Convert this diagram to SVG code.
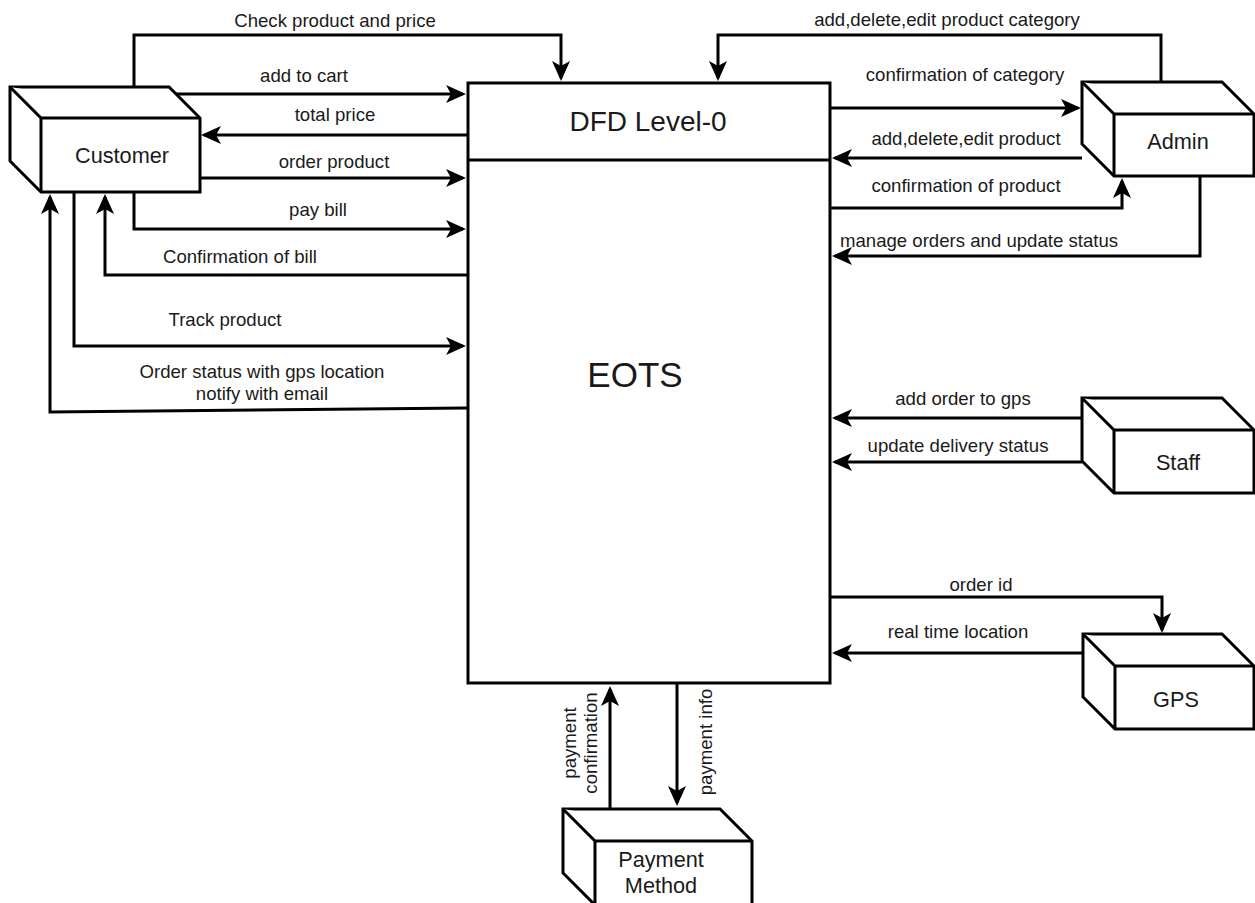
<svg xmlns="http://www.w3.org/2000/svg" width="1255" height="903" viewBox="0 0 1255 903">
  <style>
    .shape { fill: #ffffff; stroke: #000000; stroke-width: 3; stroke-linejoin: miter; }
    .edge { fill: none; stroke: #000000; stroke-width: 3; marker-end: url(#arrow); }
    .lbl { font-family: "Liberation Sans", Arial, sans-serif; font-size: 18.6px; fill: #1a1a1a; text-anchor: middle; }
    .ent { font-family: "Liberation Sans", Arial, sans-serif; font-size: 21.7px; fill: #1a1a1a; text-anchor: middle; }
  </style>
  <defs>
    <marker id="arrow" markerUnits="userSpaceOnUse" markerWidth="20" markerHeight="18" viewBox="0 0 20 18" refX="17" refY="9" orient="auto">
      <path d="M0,0 L20,9 L0,18 L5,9 Z" fill="#000000"/>
    </marker>
  </defs>
  <rect width="1255" height="903" fill="#ffffff"/>

  <!-- central process -->
  <g id="process-eots">
    <rect class="shape" x="468" y="83" width="362" height="600"/>
    <line x1="468" y1="160" x2="830" y2="160" stroke="#000" stroke-width="3"/>
    <text x="648" y="131" font-family="Liberation Sans, Arial, sans-serif" font-size="28px" fill="#1a1a1a" text-anchor="middle">DFD Level-0</text>
    <text x="635" y="387" font-family="Liberation Sans, Arial, sans-serif" font-size="35px" fill="#1a1a1a" text-anchor="middle">EOTS</text>
  </g>

  <!-- external entities (cubes) -->
  <g id="customer">
    <path class="shape" d="M10,87 H169 L200,118 V192 H41 L10,161 Z"/>
    <path class="shape" fill="none" d="M10,87 L41,118 H200 M41,118 V192"/>
    <text class="ent" x="122" y="163">Customer</text>
  </g>
  <g id="admin">
    <path class="shape" d="M1082,82 H1222 L1254,114 V176 H1114 L1082,144 Z"/>
    <path class="shape" fill="none" d="M1082,82 L1114,114 H1254 M1114,114 V176"/>
    <text class="ent" x="1178" y="149">Admin</text>
  </g>
  <g id="staff">
    <path class="shape" d="M1082,398 H1222 L1254,430 V493 H1114 L1082,461 Z"/>
    <path class="shape" fill="none" d="M1082,398 L1114,430 H1254 M1114,430 V493"/>
    <text class="ent" x="1178" y="470">Staff</text>
  </g>
  <g id="gps">
    <path class="shape" d="M1083,634 H1222 L1254,666 V729 H1115 L1083,697 Z"/>
    <path class="shape" fill="none" d="M1083,634 L1115,666 H1254 M1115,666 V729"/>
    <text class="ent" x="1176" y="707">GPS</text>
  </g>
  <g id="payment-method">
    <path class="shape" d="M563,809 H720 L752,841 V905 H595 L563,873 Z"/>
    <path class="shape" fill="none" d="M563,809 L595,841 H752 M595,841 V905"/>
    <text class="ent" x="661" y="867">Payment</text>
    <text class="ent" x="661" y="893">Method</text>
  </g>

  <!-- data flows -->
  <g id="connectors">
    <path class="edge" d="M134,87 V35 H561 V78"/>
    <path class="edge" d="M176,94 H463"/>
    <path class="edge" d="M467,135 H204"/>
    <path class="edge" d="M200,178 H463"/>
    <path class="edge" d="M134,192 V229 H463"/>
    <path class="edge" d="M467,275 H105 V197"/>
    <path class="edge" d="M74,192 V346 H463"/>
    <path class="edge" d="M467,408 L50,412 V197"/>

    <path class="edge" d="M1161,82 V35 H718 V78"/>
    <path class="edge" d="M830,108 H1078"/>
    <path class="edge" d="M1082,158 H835"/>
    <path class="edge" d="M830,208 H1122 V181"/>
    <path class="edge" d="M1200,176 V256 H835"/>

    <path class="edge" d="M1082,418 H835"/>
    <path class="edge" d="M1082,462 H835"/>

    <path class="edge" d="M830,597 H1162 V630"/>
    <path class="edge" d="M1083,653 H835"/>

    <path class="edge" d="M610,809 V689"/>
    <path class="edge" d="M677,684 V803"/>
  </g>

  <!-- flow labels -->
  <g id="labels">
    <text class="lbl" x="335" y="27">Check product and price</text>
    <text class="lbl" x="304" y="82">add to cart</text>
    <text class="lbl" x="335" y="121">total price</text>
    <text class="lbl" x="334" y="168">order product</text>
    <text class="lbl" x="318" y="216">pay bill</text>
    <text class="lbl" x="240" y="263">Confirmation of bill</text>
    <text class="lbl" x="225" y="326">Track product</text>
    <text class="lbl" x="262" y="378">Order status with gps location</text>
    <text class="lbl" x="262" y="400">notify with email</text>

    <text class="lbl" x="947" y="26">add,delete,edit product category</text>
    <text class="lbl" x="965" y="81">confirmation of category</text>
    <text class="lbl" x="966" y="145">add,delete,edit product</text>
    <text class="lbl" x="966" y="192">confirmation of product</text>
    <text class="lbl" x="979" y="247">manage orders and update status</text>

    <text class="lbl" x="963" y="405">add order to gps</text>
    <text class="lbl" x="958" y="452">update delivery status</text>
    <text class="lbl" x="981" y="591">order id</text>
    <text class="lbl" x="958" y="638">real time location</text>

    <text class="lbl" transform="translate(576,743) rotate(-90)">payment</text>
    <text class="lbl" transform="translate(597,743) rotate(-90)">confirmation</text>
    <text class="lbl" transform="translate(712,742) rotate(-90)">payment info</text>
  </g>
</svg>
